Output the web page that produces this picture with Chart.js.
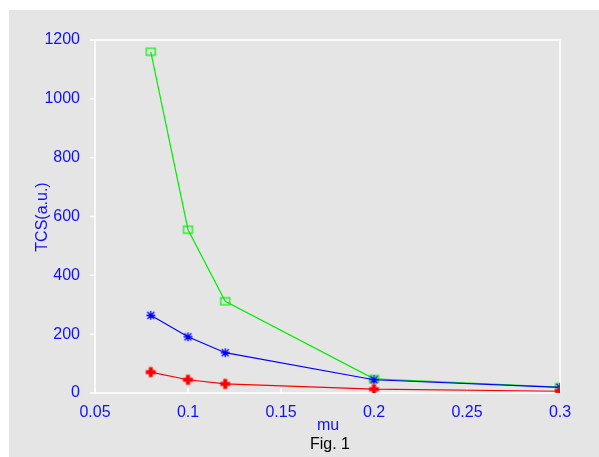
<!DOCTYPE html>
<html>
<head>
<meta charset="utf-8">
<script src="https://cdn.jsdelivr.net/npm/chart.js@4/dist/chart.umd.min.js"></script>
<style>
  html, body { margin: 0; padding: 0; background: #fff; }
  #wrap { width: 599px; height: 457px; }
</style>
</head>
<body>
<div id="wrap"><canvas id="tcsChart" width="599" height="457"></canvas></div>
<script>
// valores
const muValues = [0.08, 0.1, 0.12, 0.2, 0.3];
const greenTcs = [1160, 555, 312, 48, 20];
const blueTcs = [264, 191, 137, 45, 19];
const redTcs = [71, 45, 31, 13, 6];
const xTicks = [0.05, 0.1, 0.15, 0.2, 0.25, 0.3];
const yTicks = [0, 200, 400, 600, 800, 1000, 1200];

const textBlue = '#1010ff';
const font = 'Liberation Sans, Arial, sans-serif';

// marcadores desenhados em canvas pequenos
function makeMarker(kind, color) {
  const c = document.createElement('canvas');
  c.width = 13; c.height = 13;
  const g = c.getContext('2d');
  g.strokeStyle = color;
  g.fillStyle = color;
  if (kind === 'box') {
    g.lineWidth = 1.2;
    g.strokeRect(2, 3, 9, 7);
  } else if (kind === 'star') {
    g.lineWidth = 1.3;
    g.beginPath();
    g.moveTo(6.5, 2); g.lineTo(6.5, 11);
    g.moveTo(2, 6.5); g.lineTo(11, 6.5);
    g.moveTo(3, 3); g.lineTo(10, 10);
    g.moveTo(10, 3); g.lineTo(3, 10);
    g.stroke();
  } else {
    g.fillRect(4.5, 1.5, 4, 10);
    g.fillRect(1.5, 4.5, 10, 4);
  }
  return c;
}

const panelPlugin = {
  id: 'panel',
  beforeDraw(chart) {
    const g = chart.ctx;
    g.save();
    g.fillStyle = '#ffffff';
    g.fillRect(0, 0, chart.width, chart.height);
    g.fillStyle = '#e5e5e5';
    g.fillRect(9, 10, chart.width - 9, chart.height - 10);
    g.restore();
  },
  beforeDatasetsDraw(chart) {
    const g = chart.ctx;
    const a = chart.chartArea;
    const xs = chart.scales.x, ys = chart.scales.y;
    g.save();
    g.strokeStyle = '#ffffff';
    g.lineWidth = 1.5;
    g.strokeRect(a.left, a.top, a.right - a.left, a.bottom - a.top);
    g.beginPath();
    xTicks.forEach(v => {
      const px = xs.getPixelForValue(v);
      g.moveTo(px, a.bottom); g.lineTo(px, a.bottom - 5);
    });
    yTicks.forEach(v => {
      const py = ys.getPixelForValue(v);
      g.moveTo(a.left, py); g.lineTo(a.left - 5, py);
    });
    g.stroke();
    g.restore();
  },
  afterDraw(chart) {
    const g = chart.ctx;
    g.save();
    g.fillStyle = textBlue;
    g.font = '16px ' + font;
    g.textAlign = 'center';
    g.textBaseline = 'alphabetic';
    g.fillText('mu', 328, 430);
    g.fillStyle = '#000000';
    g.fillText('Fig. 1', 330, 449);
    g.translate(47, 217);
    g.rotate(-Math.PI / 2);
    g.fillStyle = textBlue;
    g.fillText('TCS(a.u.)', 0, 0);
    g.restore();
  }
};

function makeSet(data, color, kind) {
  return {
    data: muValues.map((x, i) => ({ x: x, y: data[i] })),
    borderColor: color,
    borderWidth: 1.2,
    pointStyle: makeMarker(kind, color),
    pointRadius: 6,
    pointHoverRadius: 6
  };
}

new Chart(document.getElementById('tcsChart'), {
  type: 'line',
  data: {
    datasets: [
      makeSet(redTcs, '#ff0000', 'plus'),
      makeSet(blueTcs, '#0000ff', 'star'),
      makeSet(greenTcs, '#00ee00', 'box')
    ]
  },
  options: {
    responsive: false,
    animation: false,
    layout: { padding: { top: 40, right: 39, left: 0, bottom: 0 } },
    plugins: { legend: { display: false }, tooltip: { enabled: false } },
    scales: {
      x: {
        type: 'linear',
        min: 0.05, max: 0.3,
        afterFit(s) { s.height = 64; },
        afterBuildTicks(s) { s.ticks = xTicks.map(v => ({ value: v })); },
        grid: { display: false },
        border: { display: false },
        ticks: {
          color: textBlue, font: { family: font, size: 16 }, padding: 2,
          maxRotation: 0, autoSkip: false,
          callback: v => String(v)
        }
      },
      y: {
        min: 0, max: 1200,
        afterFit(s) { s.width = 95; },
        afterBuildTicks(s) { s.ticks = yTicks.map(v => ({ value: v })); },
        grid: { display: false },
        border: { display: false },
        ticks: {
          color: textBlue, font: { family: font, size: 16 }, padding: 7,
          autoSkip: false,
          callback: v => String(v)
        }
      }
    }
  },
  plugins: [panelPlugin]
});
</script>
</body>
</html>
